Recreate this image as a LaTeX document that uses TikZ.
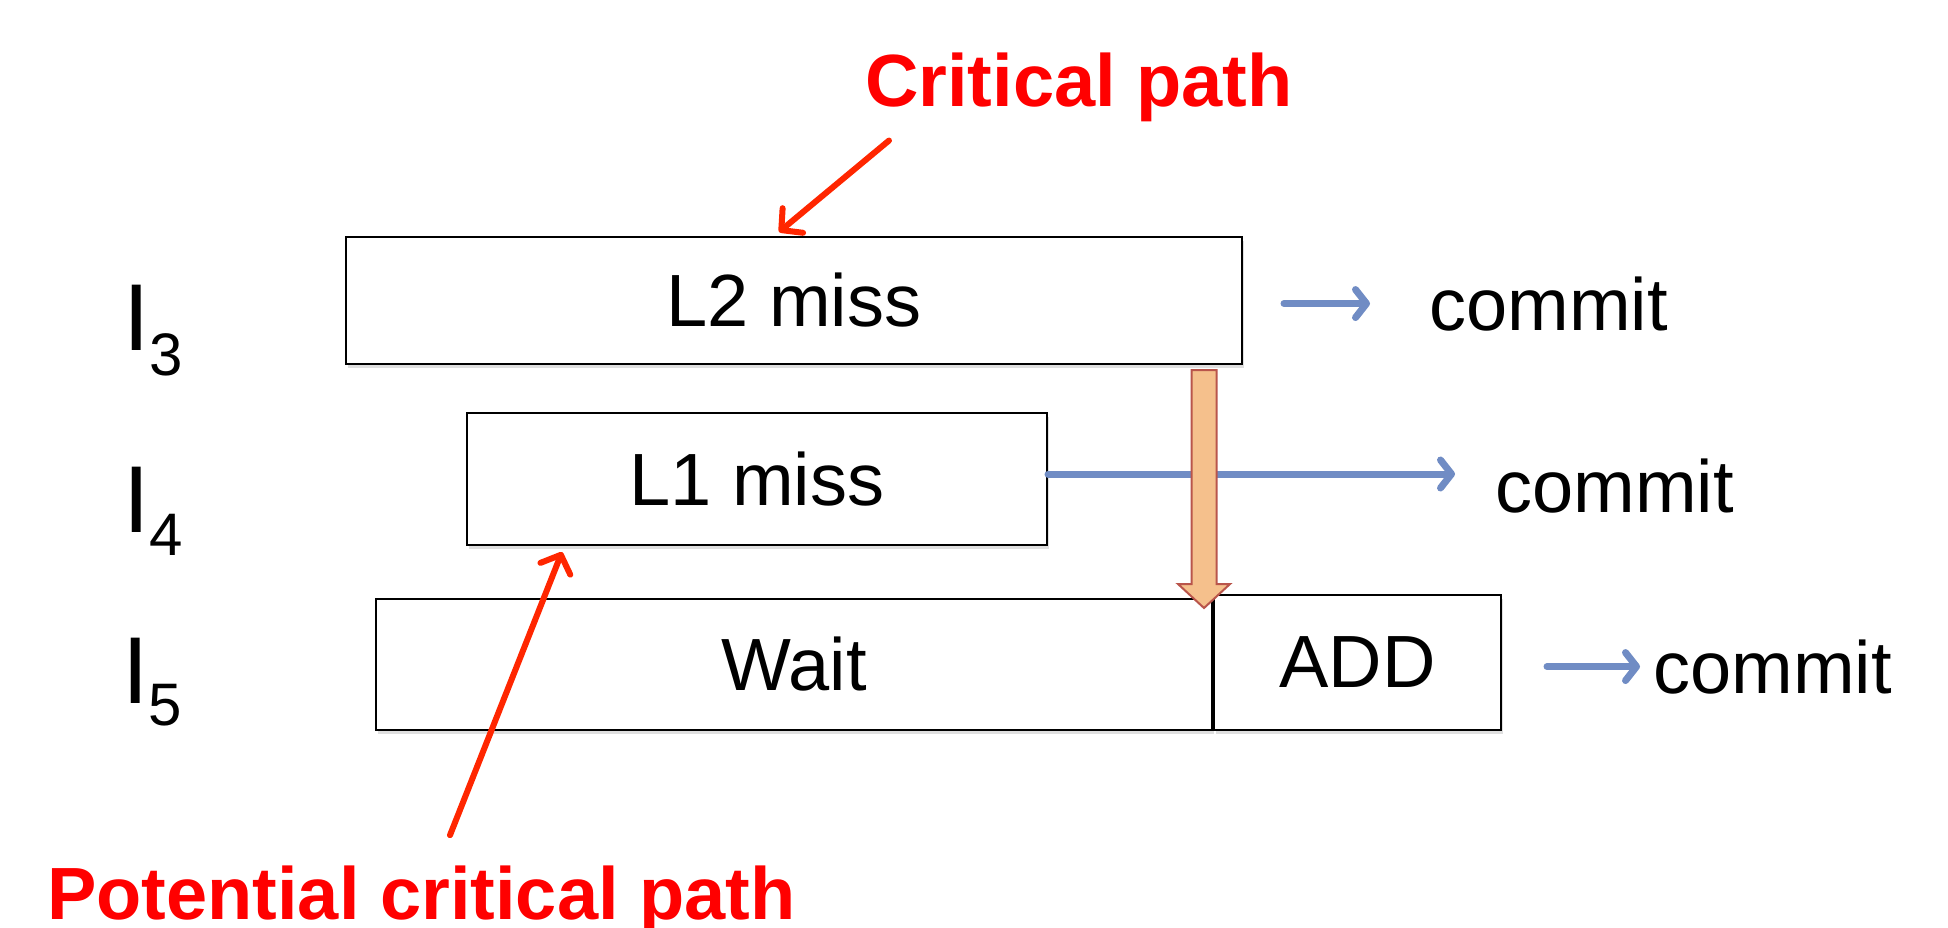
\documentclass[tikz,border=0pt]{standalone}
\usepackage{fontspec}
\setmainfont{Liberation Sans}
\usepackage{xcolor}
\usepackage{tikz}
\usetikzlibrary{arrows.meta, shadows, positioning}
\definecolor{commitblue}{RGB}{112,140,196}
\definecolor{pathred}{RGB}{255,38,0}
\definecolor{blockfill}{RGB}{245,192,140}
\definecolor{blockedge}{RGB}{185,85,75}
\tikzstyle{stage} = [rectangle, draw=black, line width=2pt, fill=white, anchor=north west, inner sep=0pt, text centered, font=\fontsize{74}{88}\selectfont, drop shadow={shadow xshift=2pt, shadow yshift=-4pt, opacity=0.25}]
\tikzstyle{word} = [inner sep=0pt, anchor=base west, font=\fontsize{74}{88}\selectfont]
\tikzstyle{instr} = [inner sep=0pt, anchor=base west, font=\fontsize{95}{110}\selectfont]
\tikzstyle{remark} = [inner sep=0pt, text=red, font=\fontsize{74}{88}\selectfont\bfseries]
\tikzstyle{flow} = [commitblue, line width=7pt, line cap=round, -{Straight Barb[round, length=11pt, width=28pt]}]
\tikzstyle{pointer} = [pathred, line width=6pt, line cap=round, -{Straight Barb[round, length=15pt, width=32pt]}]
\tikzstyle{block} = [fill=blockfill, draw=blockedge, line width=2pt, line join=miter]

\begin{document}
\begin{tikzpicture}[x=1pt, y=-1pt]
	\useasboundingbox (0,0) rectangle (1948,927);
	% instruction names
	\node (I3)[instr] at (123,350) {I\raisebox{-25pt}{\fontsize{60}{70}\selectfont 3}};
	\node (I4)[instr] at (123,532) {I\raisebox{-23pt}{\fontsize{60}{70}\selectfont 4}};
	\node (I5)[instr] at (122,703) {I\raisebox{-22pt}{\fontsize{60}{70}\selectfont 5}};
	% pipeline boxes
	\node (L2)[stage, minimum width=896pt, minimum height=127pt] at (345,236) {L2 miss};
	\node (L1)[stage, minimum width=580pt, minimum height=132pt] at (466,412) {L1 miss};
	\node (Wait)[stage, minimum width=836pt, minimum height=131pt] at (375,598) {Wait};
	\node (ADD)[stage, minimum width=287pt, minimum height=135pt, anchor=south west] at (Wait.south east) {ADD};
	% commits
	\node (CommitA)[word] at (1429,330) {commit};
	\node (CommitB)[word] at (1495,512) {commit};
	\node (CommitC)[word] at (1653,693) {commit};
	\draw [flow] ([xshift=41pt]L2.east |- CommitA.west) -- ([xshift=-59pt]CommitA.west);
	\draw [flow] ([yshift=5pt]L1.east) -- ([xshift=-40pt,yshift=5pt]CommitB.west |- L1.east);
	\draw [flow] ([xshift=45pt]ADD.east |- CommitC.west) -- ([xshift=-13pt]CommitC.west);
	% dependence L2 -> ADD
	\coordinate (DropTop) at ([xshift=-39pt,yshift=-5pt]L2.south east);
	\coordinate (DropTip) at ([yshift=-10pt]DropTop |- Wait.north);
	\draw [block] ([xshift=-12.5pt]DropTop) -- ([xshift=12.5pt]DropTop) -- ([xshift=12.5pt,yshift=24pt]DropTip) -- ([xshift=26pt,yshift=24pt]DropTip) -- (DropTip) -- ([xshift=-26pt,yshift=24pt]DropTip) -- ([xshift=-12.5pt,yshift=24pt]DropTip) -- cycle;
	% red notes
	\node (Crit)[remark, anchor=base] at (1079,106) {Critical path};
	\node (Potential)[remark, anchor=base west] at (47,919) {Potential critical path};
	\draw [pointer] ([shift={(24,19)}]Crit.south west) -- ([shift={(434,-4)}]L2.north west);
	\draw [pointer] ([shift={(403,-30)}]Potential.north west) -- ([shift={(96,6)}]L1.south west);
\end{tikzpicture}
\end{document}
